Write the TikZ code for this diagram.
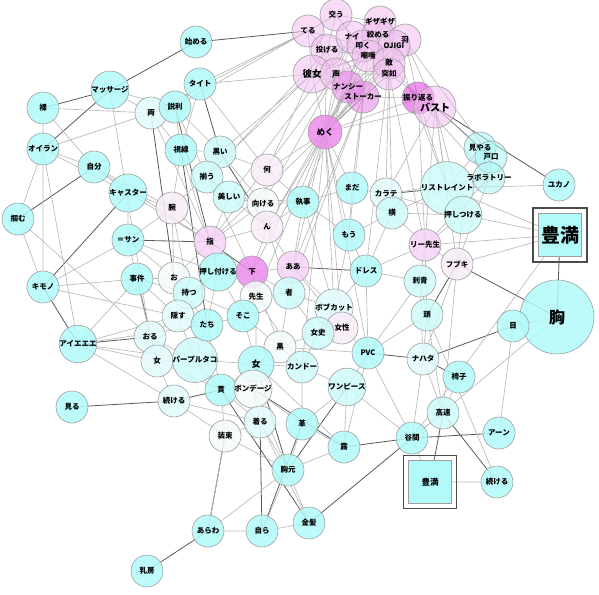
\documentclass[tikz,border=0pt]{standalone}
\usepackage{fontspec}
\setmainfont{Noto Sans CJK JP}
\usetikzlibrary{positioning}
\definecolor{cA}{RGB}{178,250,250}
\definecolor{cB}{RGB}{206,250,250}
\definecolor{cC}{RGB}{226,252,252}
\definecolor{cT}{RGB}{170,246,246}
\definecolor{wh}{RGB}{244,250,250}
\definecolor{pA}{RGB}{248,236,248}
\definecolor{pB}{RGB}{246,212,246}
\definecolor{pD}{RGB}{236,140,236}
\definecolor{pkA}{RGB}{240,190,240}
\definecolor{pkB}{RGB}{228,130,228}
\definecolor{pkC}{RGB}{220,60,220}
\pgfdeclarelayer{background}
\pgfdeclarelayer{disc}
\pgfsetlayers{background,disc,main}
\begin{document}
\begin{tikzpicture}[x=1pt, y=-1pt,
  nd/.style={circle, draw=gray!75, line width=0.6pt, minimum size=32pt, inner sep=0pt,
    fill opacity=0.85, text opacity=1, font=\fontsize{7.5}{8}\selectfont\bfseries},
  tx/.style={circle, minimum size=32pt, inner sep=0pt, font=\fontsize{7.5}{8}\selectfont\bfseries},
  disc/.style={draw=gray!75, line width=0.6pt, fill opacity=0.55},
  sq/.style={rectangle, draw=gray!75, line width=0.6pt, inner sep=0pt, fill=cA},
  frame/.style={rectangle, draw=gray!60!black, line width=1.2pt, inner sep=0pt},
  ln/.style={draw=gray!55, line width=0.65pt},
  lnd/.style={draw=black!65, line width=0.8pt}]
\useasboundingbox (0,0) rectangle (599,594);
% top cluster (discs drawn below)
\node[tx] (teru) at (308,31) {てる};
\node[tx] (kau) at (336,15) {交う};
\node[tx] (nai) at (352,37) {ナイ};
\node[tx] (gizagiza) at (380,22) {ギザギザ};
\node[tx] (shimeru) at (378,35) {絞める};
\node[tx] (hane) at (405,40) {羽};
\node[tx] (tataku) at (363,46) {叩く};
\node[tx] (ojigi) at (394,46) {OJIGI};
\node[tx] (chousho) at (368,56) {嘲嗤};
\node[tx] (teki) at (389,63) {敵};
\node[tx] (totsujo) at (389,74) {突如};
\node[tx] (nageru) at (327,50) {投げる};
\node[tx, font=\fontsize{9.5}{10}\selectfont\bfseries] (kanojo) at (312,74) {彼女};
\node[tx, font=\fontsize{8.5}{9}\selectfont\bfseries] (koe) at (336,74) {声};
\node[tx] (nancy) at (348,87) {ナンシー};
\node[tx] (stalker) at (363,97) {ストーカー};
\node[tx] (furikaeru) at (418,98) {振り返る};
\node[tx, font=\fontsize{10}{11}\selectfont\bfseries] (bust) at (435,107) {バスト};
\node[nd, fill=pD, minimum size=34pt, font=\fontsize{8.5}{9}\selectfont\bfseries] (meku) at (325,132) {めく};
% left
\node[nd, fill=cA] (hajimeru) at (196,42) {始める};
\node[nd, fill=cA] (massage) at (110,90) {マッサージ};
\node[nd, fill=cA] (hadaka) at (43,108) {裸};
\node[nd, fill=cC] (ryo) at (151,113) {両};
\node[nd, fill=cA] (setsuri) at (175,107) {説利};
\node[nd, fill=cA] (taito) at (200,84) {タイト};
\node[nd, fill=cA] (oiran) at (43,149) {オイラン};
\node[nd, fill=cA] (shisen) at (181,150) {視線};
\node[nd, fill=cB] (kuroi) at (220,152) {黒い};
\node[nd, fill=cA] (jibun) at (94,167) {自分};
\node[nd, fill=cA] (caster) at (128,193) {キャスター};
\node[nd, fill=cA] (tsukamu) at (18,219) {掴む};
\node[nd, fill=pA] (ude) at (172,208) {腕};
\node[nd, fill=cB] (sorou) at (207,177) {揃う};
\node[nd, fill=cB] (utsukushii) at (229,197) {美しい};
\node[nd, fill=pA] (nani) at (267,170) {何};
\node[nd, fill=wh] (mukeru) at (263,204) {向ける};
\node[nd, fill=pA] (nn) at (267,227) {ん};
\node[nd, fill=cA] (shitsuji) at (303,202) {執事};
\node[nd, fill=cA] (mada) at (352,188) {まだ};
\node[nd, fill=cC] (karate) at (386,194) {カラテ};
\node[nd, fill=cB] (yoko) at (392,213) {横};
\node[nd, fill=cA] (mou) at (349,235) {もう};
% right
\node[nd, fill=cB] (restraint) at (447,188) {リストレイント};
\node[nd, fill=cB] (oshitsukeru) at (463,215) {押しつける};
\node[tx] (miyaru) at (480,148) {見やる};
\node[tx] (toguchi) at (491,157) {戸口};
\node[tx] (lab) at (489,178) {ラボラトリー};
\node[nd, fill=cA] (yukano) at (559,185) {ユカノ};
\node[sq, minimum size=43pt, font=\fontsize{19}{20}\selectfont\bfseries] (houmanL) at (560,235) {豊満};
\node[frame, minimum size=54pt] (houmanLf) at (houmanL) {};
\node[nd, fill=cA, minimum size=74pt, font=\fontsize{16}{17}\selectfont\bfseries] (mune) at (557,317) {胸};
\node[nd, fill=cA] (me) at (513,326) {目};
\node[nd, fill=pB] (lee) at (425,245) {リー先生};
\node[nd, fill=pA] (fubuki) at (457,264) {フブキ};
\node[nd, fill=cB] (irezumi) at (420,281) {刺青};
\node[nd, fill=cB] (atama) at (427,315) {頭};
\node[nd, fill=cC] (nahata) at (423,359) {ナハタ};
\node[nd, fill=cA] (isu) at (459,377) {椅子};
\node[nd, fill=cB] (kousoku) at (443,413) {高速};
\node[nd, fill=cA] (aan) at (499,433) {アーン};
\node[nd, fill=cA] (tanima) at (412,438) {谷間};
\node[sq, minimum size=43pt, font=\fontsize{8.5}{9}\selectfont\bfseries] (houmanS) at (430,482) {豊満};
\node[frame, minimum size=53pt, line width=0.8pt] (houmanSf) at (houmanS) {};
\node[nd, fill=cA] (tsudukeruR) at (497,482) {続ける};
% lower left
\node[nd, fill=cA] (san) at (128,240) {＝サン};
\node[nd, fill=cA] (kimono) at (43,287) {キモノ};
\node[nd, fill=cA] (jiken) at (137,279) {事件};
\node[nd, fill=wh] (o) at (174,278) {お};
\node[nd, fill=cB] (motsu) at (189,293) {持つ};
\node[nd, fill=cC] (kakusu) at (178,316) {隠す};
\node[nd, fill=cA] (aieee) at (78,344) {アイエエエ};
\node[nd, fill=cC] (oru) at (150,337) {おる};
\node[nd, fill=cC] (onnaL) at (157,361) {女};
\node[nd, fill=cB] (purple) at (195,360) {パープルタコ};
\node[nd, fill=cC] (tsudukeruL) at (174,401) {続ける};
\node[nd, fill=cA] (miru) at (72,407) {見る};
% center
\node[nd, fill=pB] (yubi) at (210,242) {指};
\node[nd, fill=cA] (oshitsukeru2) at (218,272) {押し付ける};
\node[nd, fill=pD] (shita) at (252,272) {下};
\node[nd, fill=pB] (aa) at (293,267) {ああ};
\node[nd, fill=wh] (sensei) at (256,297) {先生};
\node[nd, fill=cB] (mono) at (289,293) {者};
\node[nd, fill=cA] (soko) at (243,316) {そこ};
\node[nd, fill=cA] (tachi) at (207,325) {たち};
\node[nd, fill=cC] (bob) at (334,308) {ボブカット};
\node[nd, fill=pA] (josei) at (342,328) {女性};
\node[nd, fill=cB] (joshi) at (318,333) {女史};
\node[nd, fill=wh] (kuro) at (280,347) {黒};
\node[nd, fill=cA, minimum size=36pt, font=\fontsize{9}{10}\selectfont\bfseries] (onnaC) at (256,364) {女};
\node[nd, fill=cB] (kandoo) at (302,367) {カンドー};
\node[nd, fill=cA] (pvc) at (368,353) {PVC};
\node[nd, fill=cA] (dress) at (366,271) {ドレス};
\node[nd, fill=cA] (kan) at (221,390) {貫};
\node[nd, fill=wh] (bondage) at (253,389) {ボンデージ};
\node[nd, fill=cB] (onepiece) at (347,387) {ワンピース};
\node[nd, fill=cC] (kiru) at (260,422) {着る};
\node[nd, fill=cA] (kawa) at (302,424) {革};
\node[nd, fill=wh] (shozoku) at (225,436) {装束};
\node[nd, fill=cA] (tsuyu) at (344,447) {露};
\node[nd, fill=cA] (munamoto) at (288,470) {胸元};
\node[nd, fill=cA] (kinpatsu) at (309,523) {金髪};
\node[nd, fill=cA] (mizukara) at (262,531) {自ら};
\node[nd, fill=cA] (arawa) at (208,531) {あらわ};
\node[nd, fill=cA] (chibusa) at (147,571) {乳房};
\begin{pgfonlayer}{disc}
\foreach \n/\c/\r in {teru/pkA/16, kau/pkA/16, nageru/pkA/16, kanojo/pkA/19, koe/pkA/16,
    nai/pkA/16, gizagiza/pkA/16, shimeru/pkA/16, hane/pkA/16, tataku/pkA/16, ojigi/pkA/16,
    chousho/pkA/16, teki/pkA/16, totsujo/pkA/16, nancy/pkB/16, stalker/pkB/16,
    furikaeru/pkC/16, bust/pkA/21, miyaru/cT/16, toguchi/cT/16, lab/cT/16}
  \filldraw[disc, fill=\c] (\n) circle[radius=\r pt];
\end{pgfonlayer}
\begin{pgfonlayer}{background}
% strong links
\draw[lnd] (massage.center) -- (hajimeru.center) (massage.center) -- (hadaka.center)
  (massage.center) -- (oiran.center) (jibun.center) -- (tsukamu.center)
  (kimono.center) -- (caster.center) (kimono.center) -- (aieee.center)
  (aieee.center) -- (oru.center) (miru.center) -- (tsudukeruL.center)
  (chibusa.center) -- (arawa.center) (kinpatsu.center) -- (tanima.center)
  (tsuyu.center) -- (tanima.center) (kousoku.center) -- (tsudukeruR.center)
  (kousoku.center) -- (houmanS.center) (tanima.center) -- (aan.center)
  (houmanL.center) -- (mune.center) (mune.center) -- (fubuki.center)
  (me.center) -- (nahata.center) (nahata.center) -- (isu.center)
  (bust.center) -- (yukano.center) (bust.center) -- (toguchi.center)
  (hajimeru.center) -- (teru.center) (san.center) -- (yubi.center)
  (taito.center) -- (kuroi.center) (ryo.center) -- (o.center)
  (setsuri.center) -- (yubi.center) (arawa.center) -- (shozoku.center)
  (mizukara.center) -- (kiru.center) (mizukara.center) -- (kawa.center)
  (munamoto.center) -- (onepiece.center) (kinpatsu.center) -- (kan.center)
  (fubuki.center) -- (atama.center) (restraint.center) -- (karate.center)
  (nahata.center) -- (pvc.center) (meku.center) -- (stalker.center)
  (shisen.center) -- (tachi.center) (kuroi.center) -- (nn.center)
  (jiken.center) -- (onnaL.center) (shita.center) -- (yubi.center)
  (onnaC.center) -- (munamoto.center) (aa.center) -- (dress.center)
  (tsudukeruL.center) -- (kan.center) (bondage.center) -- (tsuyu.center);
% cluster
\draw[ln] (teru.center) -- (kau.center) (teru.center) -- (nageru.center)
  (teru.center) -- (kanojo.center) (kau.center) -- (nai.center)
  (kau.center) -- (gizagiza.center) (kau.center) -- (nageru.center)
  (nai.center) -- (tataku.center) (nai.center) -- (shimeru.center)
  (gizagiza.center) -- (shimeru.center) (gizagiza.center) -- (hane.center)
  (shimeru.center) -- (ojigi.center) (hane.center) -- (ojigi.center)
  (hane.center) -- (teki.center) (tataku.center) -- (chousho.center)
  (chousho.center) -- (teki.center) (teki.center) -- (totsujo.center)
  (totsujo.center) -- (stalker.center) (nageru.center) -- (koe.center)
  (kanojo.center) -- (koe.center) (koe.center) -- (nancy.center)
  (nancy.center) -- (stalker.center) (stalker.center) -- (furikaeru.center)
  (furikaeru.center) -- (bust.center) (kanojo.center) -- (nageru.center)
  (nageru.center) -- (tataku.center) (kanojo.center) -- (chousho.center)
  (koe.center) -- (totsujo.center) (nancy.center) -- (teki.center)
  (stalker.center) -- (hane.center) (furikaeru.center) -- (hane.center)
  (bust.center) -- (hane.center) (bust.center) -- (totsujo.center)
  (furikaeru.center) -- (teki.center) (nai.center) -- (koe.center)
  (kau.center) -- (chousho.center) (teru.center) -- (tataku.center)
  (kanojo.center) -- (stalker.center) (nageru.center) -- (chousho.center)
  (gizagiza.center) -- (teki.center) (kanojo.center) -- (ojigi.center)
  (nancy.center) -- (hane.center) (koe.center) -- (ojigi.center);
\draw[ln] (meku.center) -- (kanojo.center) (meku.center) -- (koe.center)
  (meku.center) -- (nancy.center) (meku.center) -- (chousho.center)
  (meku.center) -- (teki.center) (meku.center) -- (totsujo.center)
  (meku.center) -- (tataku.center) (meku.center) -- (furikaeru.center)
  (meku.center) -- (bust.center) (meku.center) -- (nageru.center)
  (meku.center) -- (nai.center) (meku.center) -- (ojigi.center)
  (meku.center) -- (hane.center) (meku.center) -- (gizagiza.center)
  (kanojo.center) -- (nani.center) (kanojo.center) -- (kuroi.center)
  (kanojo.center) -- (taito.center) (teru.center) -- (taito.center)
  (nageru.center) -- (sorou.center) (koe.center) -- (mukeru.center)
  (nancy.center) -- (nn.center) (stalker.center) -- (aa.center)
  (stalker.center) -- (mada.center) (teki.center) -- (karate.center)
  (totsujo.center) -- (yoko.center) (ojigi.center) -- (restraint.center)
  (hane.center) -- (toguchi.center) (bust.center) -- (restraint.center)
  (furikaeru.center) -- (lab.center) (bust.center) -- (oshitsukeru.center)
  (furikaeru.center) -- (lee.center) (totsujo.center) -- (lee.center)
  (teki.center) -- (dress.center) (chousho.center) -- (mou.center)
  (tataku.center) -- (shitsuji.center) (nai.center) -- (utsukushii.center)
  (kau.center) -- (setsuri.center) (teru.center) -- (ryo.center)
  (kanojo.center) -- (ude.center) (koe.center) -- (yubi.center)
  (nancy.center) -- (shita.center) (stalker.center) -- (mono.center)
  (meku.center) -- (shita.center) (meku.center) -- (nn.center)
  (meku.center) -- (aa.center) (meku.center) -- (mou.center)
  (meku.center) -- (bob.center) (meku.center) -- (josei.center)
  (meku.center) -- (kandoo.center) (meku.center) -- (shitsuji.center)
  (meku.center) -- (nani.center) (meku.center) -- (mada.center)
  (meku.center) -- (yubi.center) (meku.center) -- (sensei.center)
  (meku.center) -- (pvc.center) (bust.center) -- (karate.center)
  (bust.center) -- (lee.center) (furikaeru.center) -- (restraint.center)
  (bust.center) -- (miyaru.center) (bust.center) -- (fubuki.center);
% left part
\draw[ln] (hadaka.center) -- (oiran.center) (hadaka.center) -- (ryo.center)
  (hadaka.center) -- (kimono.center) (hadaka.center) -- (jibun.center)
  (oiran.center) -- (jibun.center) (oiran.center) -- (ryo.center)
  (oiran.center) -- (caster.center) (oiran.center) -- (kimono.center)
  (oiran.center) -- (aieee.center) (jibun.center) -- (caster.center)
  (jibun.center) -- (ude.center) (jibun.center) -- (yubi.center)
  (caster.center) -- (ude.center) (caster.center) -- (san.center)
  (caster.center) -- (yubi.center) (massage.center) -- (ryo.center)
  (massage.center) -- (setsuri.center) (massage.center) -- (oru.center)
  (ryo.center) -- (setsuri.center) (ryo.center) -- (shisen.center)
  (ryo.center) -- (yubi.center) (setsuri.center) -- (taito.center)
  (setsuri.center) -- (kuroi.center) (setsuri.center) -- (shisen.center)
  (setsuri.center) -- (sorou.center) (taito.center) -- (shisen.center)
  (taito.center) -- (nani.center) (shisen.center) -- (kuroi.center)
  (shisen.center) -- (ude.center) (shisen.center) -- (oshitsukeru2.center)
  (kuroi.center) -- (sorou.center) (kuroi.center) -- (nani.center)
  (kuroi.center) -- (mukeru.center) (sorou.center) -- (utsukushii.center)
  (sorou.center) -- (shita.center) (utsukushii.center) -- (mukeru.center)
  (utsukushii.center) -- (yubi.center) (utsukushii.center) -- (nn.center)
  (utsukushii.center) -- (shitsuji.center) (ude.center) -- (san.center)
  (ude.center) -- (yubi.center) (ude.center) -- (o.center)
  (ude.center) -- (motsu.center) (tsukamu.center) -- (kimono.center)
  (tsukamu.center) -- (oiran.center) (tsukamu.center) -- (oru.center)
  (kimono.center) -- (jiken.center) (kimono.center) -- (kakusu.center)
  (kimono.center) -- (san.center) (san.center) -- (jiken.center)
  (san.center) -- (o.center) (san.center) -- (oshitsukeru2.center)
  (jiken.center) -- (o.center) (jiken.center) -- (motsu.center)
  (jiken.center) -- (oru.center) (jiken.center) -- (kakusu.center)
  (o.center) -- (motsu.center) (o.center) -- (yubi.center)
  (o.center) -- (kakusu.center) (o.center) -- (tachi.center)
  (motsu.center) -- (kakusu.center) (motsu.center) -- (oshitsukeru2.center)
  (motsu.center) -- (soko.center) (kakusu.center) -- (oru.center)
  (kakusu.center) -- (tachi.center) (kakusu.center) -- (purple.center)
  (oru.center) -- (onnaL.center) (oru.center) -- (purple.center)
  (onnaL.center) -- (purple.center) (onnaL.center) -- (tsudukeruL.center)
  (onnaL.center) -- (kan.center) (purple.center) -- (tachi.center)
  (purple.center) -- (kan.center) (purple.center) -- (onnaC.center)
  (tsudukeruL.center) -- (shozoku.center) (tsudukeruL.center) -- (aieee.center)
  (aieee.center) -- (onnaL.center) (aieee.center) -- (tachi.center)
  (aieee.center) -- (jiken.center) (aieee.center) -- (kakusu.center)
  (aieee.center) -- (purple.center) (tsudukeruL.center) -- (kiru.center);
% center part
\draw[ln] (yubi.center) -- (oshitsukeru2.center) (yubi.center) -- (nn.center)
  (yubi.center) -- (mukeru.center) (oshitsukeru2.center) -- (shita.center)
  (oshitsukeru2.center) -- (soko.center) (oshitsukeru2.center) -- (tachi.center)
  (shita.center) -- (aa.center) (shita.center) -- (sensei.center)
  (shita.center) -- (mono.center) (shita.center) -- (nn.center)
  (aa.center) -- (mono.center) (aa.center) -- (nn.center)
  (aa.center) -- (shitsuji.center) (aa.center) -- (bob.center)
  (sensei.center) -- (soko.center) (sensei.center) -- (mono.center)
  (sensei.center) -- (onnaC.center) (mono.center) -- (bob.center)
  (mono.center) -- (joshi.center) (mono.center) -- (kuro.center)
  (soko.center) -- (tachi.center) (soko.center) -- (onnaC.center)
  (soko.center) -- (kuro.center) (tachi.center) -- (kan.center)
  (kuro.center) -- (onnaC.center) (kuro.center) -- (kandoo.center)
  (kuro.center) -- (joshi.center) (onnaC.center) -- (kandoo.center)
  (onnaC.center) -- (bondage.center) (onnaC.center) -- (kan.center)
  (onnaC.center) -- (kiru.center) (kandoo.center) -- (joshi.center)
  (kandoo.center) -- (onepiece.center) (kandoo.center) -- (kawa.center)
  (joshi.center) -- (josei.center) (joshi.center) -- (bob.center)
  (josei.center) -- (bob.center) (josei.center) -- (pvc.center)
  (bob.center) -- (dress.center) (bob.center) -- (mou.center)
  (pvc.center) -- (dress.center) (pvc.center) -- (onepiece.center)
  (pvc.center) -- (tsuyu.center) (onepiece.center) -- (tsuyu.center)
  (onepiece.center) -- (kawa.center) (kan.center) -- (bondage.center)
  (kan.center) -- (shozoku.center) (kan.center) -- (kiru.center)
  (bondage.center) -- (kiru.center) (bondage.center) -- (kawa.center)
  (bondage.center) -- (munamoto.center) (kiru.center) -- (shozoku.center)
  (kiru.center) -- (munamoto.center) (kawa.center) -- (munamoto.center)
  (kawa.center) -- (tsuyu.center) (shozoku.center) -- (munamoto.center)
  (munamoto.center) -- (mizukara.center) (munamoto.center) -- (tsuyu.center)
  (munamoto.center) -- (kinpatsu.center) (mizukara.center) -- (arawa.center)
  (mizukara.center) -- (kinpatsu.center) (arawa.center) -- (munamoto.center)
  (nn.center) -- (mukeru.center) (nn.center) -- (shitsuji.center)
  (nn.center) -- (mono.center) (mukeru.center) -- (nani.center)
  (mukeru.center) -- (shitsuji.center) (nani.center) -- (shitsuji.center)
  (shitsuji.center) -- (mada.center) (shitsuji.center) -- (mou.center)
  (mada.center) -- (mou.center) (mada.center) -- (karate.center)
  (mou.center) -- (yoko.center) (mou.center) -- (dress.center)
  (karate.center) -- (yoko.center) (yoko.center) -- (lee.center)
  (yoko.center) -- (oshitsukeru.center) (yoko.center) -- (dress.center)
  (dress.center) -- (irezumi.center) (dress.center) -- (lee.center)
  (pvc.center) -- (kuro.center) (pvc.center) -- (tanima.center)
  (onepiece.center) -- (tanima.center) (tsuyu.center) -- (onnaC.center)
  (shozoku.center) -- (arawa.center) (kinpatsu.center) -- (kiru.center)
  (shita.center) -- (kuro.center) (aa.center) -- (josei.center)
  (shitsuji.center) -- (bob.center) (sensei.center) -- (kandoo.center);
% right part
\draw[ln] (karate.center) -- (lab.center) (restraint.center) -- (oshitsukeru.center)
  (restraint.center) -- (lab.center) (lab.center) -- (toguchi.center)
  (toguchi.center) -- (miyaru.center) (miyaru.center) -- (lab.center)
  (miyaru.center) -- (restraint.center) (oshitsukeru.center) -- (lee.center)
  (oshitsukeru.center) -- (fubuki.center) (lab.center) -- (fubuki.center)
  (lee.center) -- (fubuki.center) (lee.center) -- (irezumi.center)
  (irezumi.center) -- (atama.center) (atama.center) -- (nahata.center)
  (fubuki.center) -- (nahata.center) (irezumi.center) -- (nahata.center)
  (atama.center) -- (kousoku.center) (nahata.center) -- (kousoku.center)
  (nahata.center) -- (tanima.center) (kousoku.center) -- (tanima.center)
  (isu.center) -- (kousoku.center) (me.center) -- (mune.center)
  (houmanL.center) -- (lee.center) (houmanL.center) -- (fubuki.center)
  (houmanL.center) -- (oshitsukeru.center) (houmanL.center) -- (tanima.center)
  (mune.center) -- (tanima.center) (houmanS.center) -- (tsudukeruR.center)
  (aan.center) -- (me.center) (tsudukeruR.center) -- (atama.center)
  (yukano.center) -- (restraint.center) (houmanL.center) -- (restraint.center)
  (tanima.center) -- (houmanS.center) (lee.center) -- (atama.center)
  (restraint.center) -- (yoko.center) (oshitsukeru.center) -- (karate.center)
  (fubuki.center) -- (kousoku.center) (lab.center) -- (lee.center)
  (irezumi.center) -- (pvc.center) (atama.center) -- (pvc.center);
\end{pgfonlayer}
\end{tikzpicture}
\end{document}
